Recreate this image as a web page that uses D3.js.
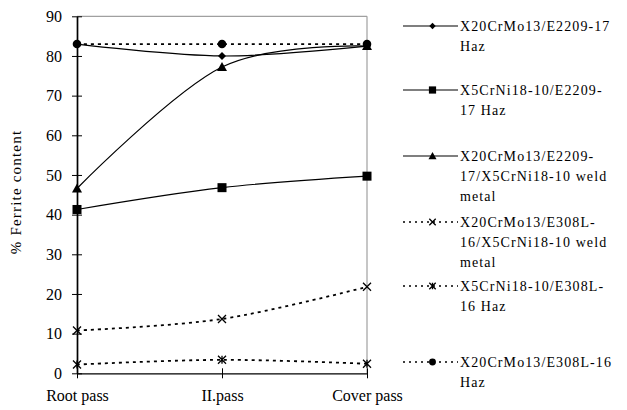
<!DOCTYPE html>
<html>
<head>
<meta charset="utf-8">
<script src="https://cdn.jsdelivr.net/npm/d3@7"></script>
<style>
body { margin: 0; background: #fff; }
text { font-family: "Liberation Serif", "Times New Roman", serif; fill: #000; }
</style>
</head>
<body>
<div class="chart"></div>
<script>
// data
const passes = ['Root pass', 'II.pass', 'Cover pass']
const yTicks = [0, 10, 20, 30, 40, 50, 60, 70, 80, 90]

const seriesNames = [
  ['X20CrMo13/E2209-17', 'Haz'],
  ['X5CrNi18-10/E2209-', '17 Haz'],
  ['X20CrMo13/E2209-', '17/X5CrNi18-10 weld', 'metal'],
  ['X20CrMo13/E308L-', '16/X5CrNi18-10 weld', 'metal'],
  ['X5CrNi18-10/E308L-', '16 Haz'],
  ['X20CrMo13/E308L-16', 'Haz']
]
const seriesMarkers = ['diamond', 'square', 'triangle', 'cross', 'star', 'circle']
const seriesDotted = [false, false, false, true, true, true]

const diamondVals = [83, 80, 82.5]
const squareVals = [41.3, 46.8, 49.7]
const triangleVals = [46.6, 77.2, 82.5]
const crossVals = [10.8, 13.7, 21.8]
const starVals = [2.2, 3.4, 2.4]
const circleVals = [83, 83, 83]

const seriesValues = [diamondVals, squareVals, triangleVals, crossVals, starVals, circleVals]

const W = 627, H = 410
const mLeft = 77, mRight = 367, mTop = 16.3, mBottom = 373.3

const svg = d3.select('.chart')
  .append('svg')
  .attr('width', W)
  .attr('height', H)

const x = d3.scalePoint().domain(passes).range([mLeft, mRight]).padding(0)
const y = d3.scaleLinear().domain([0, 90]).range([mBottom, mTop])

// grey frame on top and right
svg.append('line').attr('x1', mLeft).attr('x2', mRight).attr('y1', mTop).attr('y2', mTop)
  .attr('stroke', '#a0a0a0').attr('stroke-width', 1.2)
svg.append('line').attr('x1', mRight).attr('x2', mRight).attr('y1', mTop).attr('y2', mBottom)
  .attr('stroke', '#a0a0a0').attr('stroke-width', 1.2)

// axes
const yAxis = svg.append('g')
  .attr('transform', `translate(${mLeft},0)`)
  .call(d3.axisLeft(y).tickValues(yTicks).tickSize(5).tickSizeOuter(0).tickPadding(10))
yAxis.selectAll('.tick line').attr('x1', 5).attr('x2', -5)
yAxis.selectAll('.tick text').attr('font-size', 16).attr('font-family', 'Liberation Serif')
yAxis.select('.domain').attr('stroke-width', 1.7)

const xAxis = svg.append('g')
  .attr('transform', `translate(0,${mBottom})`)
  .call(d3.axisBottom(x).tickSize(5).tickSizeOuter(0).tickPadding(11.3))
xAxis.selectAll('.tick line').attr('y1', -5).attr('y2', 5)
xAxis.selectAll('.tick text').attr('font-size', 16).attr('font-family', 'Liberation Serif')
xAxis.select('.domain').attr('stroke-width', 1.3)
svg.selectAll('.domain, .tick line').attr('stroke', '#000')

svg.append('text')
  .attr('transform', 'translate(21,192) rotate(-90)')
  .attr('text-anchor', 'middle')
  .attr('font-size', 15)
  .attr('letter-spacing', 1.2)
  .text('% Ferrite content')

function drawMarker(g, type, cx, cy, s) {
  s = s || 1
  if (type === 'diamond') {
    g.append('path').attr('d', `M${cx},${cy - 4 * s}L${cx + 4 * s},${cy}L${cx},${cy + 4 * s}L${cx - 4 * s},${cy}Z`)
  } else if (type === 'square') {
    g.append('rect').attr('x', cx - 4.5 * s).attr('y', cy - 4.5 * s).attr('width', 9 * s).attr('height', 9 * s)
  } else if (type === 'triangle') {
    g.append('path').attr('d', `M${cx},${cy - 5 * s}L${cx + 5 * s},${cy + 4 * s}L${cx - 5 * s},${cy + 4 * s}Z`)
  } else if (type === 'circle') {
    g.append('circle').attr('cx', cx).attr('cy', cy).attr('r', 4.3 * s)
  } else if (type === 'cross' || type === 'star') {
    const r = 4 * s
    g.append('path')
      .attr('d', `M${cx - r},${cy - r}L${cx + r},${cy + r}M${cx - r},${cy + r}L${cx + r},${cy - r}` +
        (type === 'star' ? `M${cx},${cy - r}L${cx},${cy + r}` : ''))
      .attr('fill', 'none').attr('stroke', '#000').attr('stroke-width', 1.3)
  }
}

const line = d3.line()
  .x((d, i) => x(passes[i]))
  .y(d => y(d))
  .curve(d3.curveCatmullRom.alpha(0))

seriesValues.forEach((vals, k) => {
  svg.append('path')
    .datum(vals)
    .attr('d', line)
    .attr('fill', 'none')
    .attr('stroke', '#000')
    .attr('stroke-width', seriesDotted[k] ? 1.8 : 1.2)
    .attr('stroke-dasharray', seriesDotted[k] ? '3,4' : null)
})

seriesValues.forEach((vals, k) => {
  const g = svg.append('g').attr('fill', '#000')
  vals.forEach((v, i) => drawMarker(g, seriesMarkers[k], x(passes[i]), y(v)))
})

// legend
const legendRows = [26, 90, 156, 222, 286, 362]
const legendX1 = 403, legendX2 = 458, legendText = 460, lineGap = 20
seriesNames.forEach((lines, k) => {
  const ly = legendRows[k]
  const g = svg.append('g').attr('fill', '#000')
  g.append('line')
    .attr('x1', legendX1).attr('x2', legendX2).attr('y1', ly).attr('y2', ly)
    .attr('stroke', '#000')
    .attr('stroke-width', seriesDotted[k] ? 1.6 : 1.2)
    .attr('stroke-dasharray', seriesDotted[k] ? '2,4' : null)
  drawMarker(g, seriesMarkers[k], (legendX1 + legendX2) / 2 + 2, ly, 0.8)
  lines.forEach((t, j) => {
    g.append('text')
      .attr('x', legendText)
      .attr('y', ly + 5 + j * lineGap)
      .attr('font-size', 14)
      .attr('letter-spacing', 1.1)
      .text(t)
  })
})
</script>
</body>
</html>
